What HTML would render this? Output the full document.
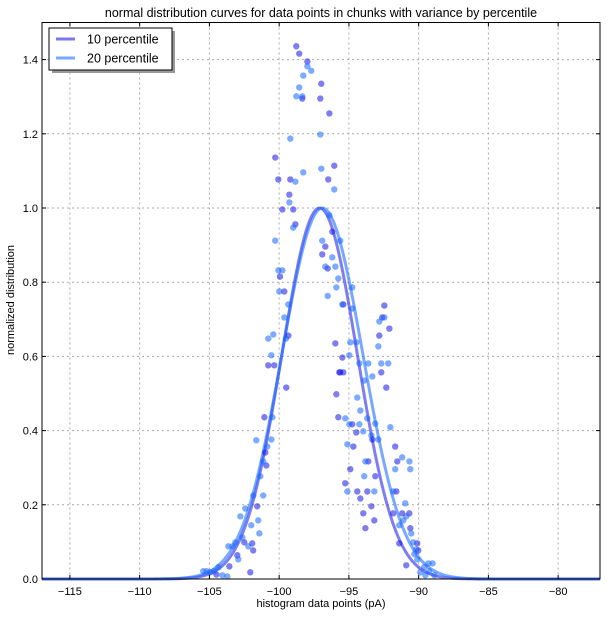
<!DOCTYPE html>
<html><head><meta charset="utf-8"><style>
body{margin:0;background:#fff;width:607px;height:616px;overflow:hidden;font-family:"Liberation Sans",sans-serif}
</style></head><body>
<svg id="chart" width="607" height="616" xmlns="http://www.w3.org/2000/svg" font-family="Liberation Sans, sans-serif">
<rect width="607" height="616" fill="#fff"/>
<text x="321" y="17" text-anchor="middle" font-size="12.5">normal distribution curves for data points in chunks with variance by percentile</text>
<g id="grid"></g>
<g id="curves"></g>
<g id="points"></g>
<rect x="42" y="22.5" width="558" height="556.5" fill="none" stroke="#000" stroke-width="1"/>
<g id="ticks"></g>
<text x="321" y="607" text-anchor="middle" font-size="11">histogram data points (pA)</text>
<text transform="translate(14,300) rotate(-90)" text-anchor="middle" font-size="11">normalized distribution</text>
<g>
<rect x="52" y="31" width="123" height="42" fill="#999"/>
<rect x="49" y="28" width="123" height="42" fill="#fff" stroke="#000" stroke-width="1"/>
<line x1="56" y1="39" x2="75" y2="39" stroke="rgb(120,120,245)" stroke-width="3"/>
<text x="87" y="43.5" font-size="12.5">10 percentile</text>
<line x1="56" y1="58" x2="75" y2="58" stroke="rgb(120,170,255)" stroke-width="3"/>
<text x="87" y="62.5" font-size="12.5">20 percentile</text>
</g>
</svg>
<script>
const xTicks=[-115,-110,-105,-100,-95,-90,-85,-80];
const yTicks=[0.0,0.2,0.4,0.6,0.8,1.0,1.2,1.4];
const seriesNames=["10 percentile","20 percentile"];
const curveMeans=[-97.1,-96.9];
const curveSigmas=[2.7,2.9];
const p10x=[-98.77,-98.56,-97.98,-96.98,-98.34,-97.05,-96.40,-100.28,-96.05,-100.06,-99.20,-96.48,-99.27,-99.77,-98.99,-98.84,-99.94,-99.63,-99.34,-100.78,-100.35,-99.49,-96.69,-96.91,-96.52,-96.19,-95.4,-95.97,-95.47,-95.69,-95.4,-92.68,-92.32,-92.82,-92.1,-92.61,-92.46,-95.62,-95.9,-95.76,-94.76,-94.47,-93.32,-94.68,-91.68,-91.53,-93.61,-94.9,-93.11,-95.26,-94.4,-93.68,-91.6,-94.18,-93.39,-93.97,-93.82,-93.18,-91.82,-91.18,-90.67,-90.6,-91.39,-90.1,-90.03,-90.89,-101.06,-100.99,-100.92,-101.57,-102.5,-101.93,-101.86,-103.0,-103.57,-102.07,-104.5];
const p10y=[1.436,1.416,1.395,1.335,1.295,1.295,1.255,1.136,1.114,1.077,1.077,1.077,1.036,0.996,0.996,0.956,0.815,0.775,0.656,0.576,0.576,0.516,0.896,0.875,0.837,0.936,0.740,0.635,0.597,0.557,0.557,0.557,0.516,0.656,0.675,0.705,0.737,0.557,0.498,0.436,0.417,0.395,0.376,0.357,0.357,0.317,0.317,0.296,0.277,0.258,0.236,0.236,0.236,0.217,0.196,0.177,0.137,0.158,0.177,0.177,0.177,0.137,0.096,0.096,0.077,0.037,0.436,0.341,0.306,0.196,0.099,0.096,0.077,0.064,0.034,0.018,0.012];
const p20x=[-97.98,-97.70,-98.27,-98.56,-98.77,-98.34,-99.20,-97.05,-96.98,-98.27,-98.84,-96.05,-99.27,-98.99,-100.28,-100.06,-99.77,-99.99,-99.34,-99.63,-99.51,-100.42,-100.78,-100.56,-96.91,-96.19,-96.69,-95.97,-95.76,-95.90,-95.62,-96.40,-96.52,-95.47,-94.76,-94.76,-94.97,-94.9,-94.47,-94.25,-93.61,-93.9,-93.32,-92.68,-92.18,-92.89,-92.82,-92.46,-95.26,-94.97,-94.25,-93.97,-93.68,-94.18,-94.4,-93.11,-93.39,-92.89,-95.11,-92.03,-91.18,-90.66,-90.6,-91.68,-93.82,-93.9,-95.11,-93.18,-91.82,-90.96,-90.89,-91.1,-91.39,-90.53,-90.38,-90.17,-90.31,-90.1,-89.6,-89.3,-89.0,-89.88,-89.52,-89.25,-88.88,-100.49,-101.64,-100.56,-100.85,-101.14,-101.35,-101.85,-101.14,-102.43,-102.78,-101.5,-102.0,-101.42,-102.64,-103.14,-103.64,-103.35,-102.21,-102.93,-104.36,-104.65,-105.44,-105.2,-104.95,-104.07,-103.72];
const p20y=[1.382,1.370,1.357,1.325,1.301,1.301,1.187,1.198,1.106,1.096,1.071,1.050,1.015,0.947,0.912,0.832,0.832,0.775,0.740,0.705,0.648,0.659,0.648,0.603,0.912,0.867,0.842,0.842,0.810,0.786,0.912,0.980,0.763,0.740,0.786,0.729,0.603,0.638,0.638,0.581,0.581,0.535,0.546,0.581,0.581,0.627,0.694,0.705,0.433,0.417,0.417,0.398,0.433,0.454,0.489,0.419,0.387,0.376,0.363,0.409,0.328,0.317,0.296,0.296,0.317,0.277,0.236,0.236,0.236,0.204,0.169,0.158,0.145,0.123,0.099,0.080,0.067,0.053,0.032,0.042,0.042,0.018,0.010,0.021,0.010,0.436,0.374,0.376,0.357,0.317,0.277,0.225,0.225,0.190,0.169,0.158,0.145,0.123,0.112,0.099,0.088,0.088,0.088,0.053,0.032,0.021,0.021,0.021,0.018,0.010,0.007];

const X0=42,X1=600,Y0=579,Y1=22.5,XMIN=-117,XMAX=-77,YMIN=0,YMAX=1.5;
function xs(v){return X0+(v-XMIN)/(XMAX-XMIN)*(X1-X0);}
function ys(v){return Y0-(v-YMIN)/(YMAX-YMIN)*(Y0-Y1);}
const NS="http://www.w3.org/2000/svg";
function mk(tag,attrs,parent){const e=document.createElementNS(NS,tag);for(const k in attrs)e.setAttribute(k,attrs[k]);parent.appendChild(e);return e;}
const grid=document.getElementById('grid'),ticks=document.getElementById('ticks');
xTicks.forEach(t=>{
  const x=xs(t);
  const g=mk('line',{x1:x,x2:x,y1:Y1,y2:Y0,stroke:'#aaa','stroke-dasharray':'2,3','stroke-width':1},grid);
  
  
  mk('line',{x1:x,x2:x,y1:Y0,y2:Y0-4,stroke:'#000'},ticks);
  mk('line',{x1:x,x2:x,y1:Y1,y2:Y1+4,stroke:'#000'},ticks);
  const l=mk('text',{x:x,y:Y0+16,'text-anchor':'middle','font-size':11},ticks);
  l.textContent=(t<0?'\u2212'+(-t):t);
  
  
});
yTicks.forEach(t=>{
  const y=ys(t);
  const g=mk('line',{x1:X0,x2:X1,y1:y,y2:y,stroke:'#aaa','stroke-dasharray':'2,3','stroke-width':1},grid);
  
  
  mk('line',{x1:X0,x2:X0+4,y1:y,y2:y,stroke:'#000'},ticks);
  mk('line',{x1:X1,x2:X1-4,y1:y,y2:y,stroke:'#000'},ticks);
  const l=mk('text',{x:X0-4,y:y+4,'text-anchor':'end','font-size':11},ticks);
  l.textContent=t.toFixed(1);
  
  
});
const curveColors=['rgba(40,40,235,0.6)','rgba(30,110,255,0.6)'];
const curves=document.getElementById('curves');
[0,1].forEach(i=>{
  let d='';
  for(let v=XMIN;v<=XMAX+1e-9;v+=0.1){
    const y=Math.exp(-Math.pow(v-curveMeans[i],2)/(2*curveSigmas[i]*curveSigmas[i]));
    d+=(d?'L':'M')+xs(v).toFixed(2)+','+ys(y).toFixed(2);
  }
  const p=mk('path',{d:d,fill:'none',stroke:curveColors[i],'stroke-width':3},curves);
  
  
});
const pts=document.getElementById('points');
const ptColors=['rgba(20,20,230,0.55)','rgba(20,100,255,0.55)'];
[[p10x,p10y],[p20x,p20y]].forEach((s,i)=>{
  s[0].forEach((v,j)=>{
    const c=mk('circle',{cx:xs(v),cy:ys(s[1][j]),r:3.2,fill:ptColors[i]},pts);
    
    
  });
});
</script>
</body></html>
